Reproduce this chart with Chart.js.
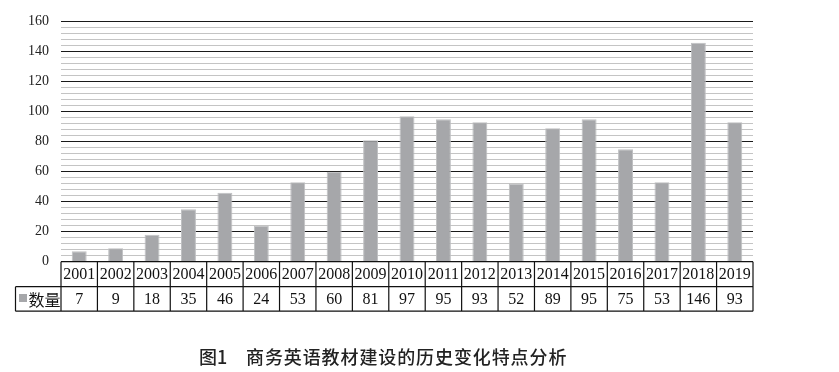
<!DOCTYPE html>
<html>
<head>
<meta charset="utf-8">
<script src="https://cdn.jsdelivr.net/npm/chart.js@4"></script>
<style>
  body { margin: 0; background: #fff; }
  #wrap { position: relative; width: 839px; height: 372px; }
  #caption {
    position: absolute; top: 346px; left: 199px; height: 20px;
    font-family: "Noto Sans CJK SC", sans-serif; font-size: 18px; line-height: 20px;
    font-weight: 500; color: #222; white-space: nowrap;
  }
  #caption .titulo { position: absolute; left: 47px; top: 0; letter-spacing: 0.9px; }
</style>
</head>
<body>
<div id="wrap">
  <canvas id="miGrafico"></canvas>
  <div id="caption"><span>图1</span><span class="titulo">商务英语教材建设的历史变化特点分析</span></div>
</div>
<script>
// datos
var anios = ['2001', '2002', '2003', '2004', '2005', '2006', '2007', '2008', '2009', '2010',
  '2011', '2012', '2013', '2014', '2015', '2016', '2017', '2018', '2019'];
var cantidad = [7, 9, 18, 35, 46, 24, 53, 60, 81, 97, 95, 93, 52, 89, 95, 75, 53, 146, 93];
var nombreSerie = '数量';
var ticksY = [0, 20, 40, 60, 80, 100, 120, 140, 160];

// tabla de datos debajo del grafico
var tablaDatos = {
  id: 'tablaDatos',
  afterDraw: function (chart) {
    var ctx = chart.ctx;
    var area = chart.chartArea;
    var n = anios.length;
    var colW = (area.right - area.left) / n;
    var y0 = area.bottom;
    var y1 = y0 + 25;
    var y2 = y1 + 24.5;
    var xLeyenda = 15.5;
    ctx.save();
    ctx.strokeStyle = '#111';
    ctx.lineWidth = 1.2;
    ctx.beginPath();
    ctx.moveTo(area.left, y0); ctx.lineTo(area.right, y0);
    ctx.moveTo(xLeyenda, y1); ctx.lineTo(area.right, y1);
    ctx.moveTo(xLeyenda, y2); ctx.lineTo(area.right, y2);
    ctx.moveTo(xLeyenda, y1); ctx.lineTo(xLeyenda, y2);
    for (var i = 0; i <= n; i++) {
      var x = area.left + i * colW;
      ctx.moveTo(x, y0); ctx.lineTo(x, y2);
    }
    ctx.stroke();

    ctx.fillStyle = '#111';
    ctx.textAlign = 'center';
    ctx.textBaseline = 'middle';
    ctx.font = '16px "Liberation Serif", serif';
    var xs = chart.scales.x;
    anios.forEach(function (a, i) {
      var cx = xs.getPixelForTick(i);
      ctx.fillText(a, cx, (y0 + y1) / 2 + 1);
      ctx.fillText(String(cantidad[i]), cx, (y1 + y2) / 2 + 1);
    });

    // leyenda
    ctx.fillStyle = '#a6a7aa';
    ctx.fillRect(19, 294, 8, 8);
    ctx.fillStyle = '#111';
    ctx.textAlign = 'left';
    ctx.font = '16px "Noto Sans CJK SC", serif';
    ctx.fillText(nombreSerie, 28.5, (y1 + y2) / 2 + 0.5);
    ctx.restore();
  }
};

const ctx = document.getElementById('miGrafico');
window.miGrafico = new Chart(ctx, {
  type: 'bar',
  data: {
    labels: anios,
    datasets: [{
      label: nombreSerie,
      data: cantidad,
      backgroundColor: '#a6a7aa',
      borderColor: '#bfc0c2',
      borderWidth: 1,
      barPercentage: 0.41,
      categoryPercentage: 1
    }]
  },
  options: {
    responsive: true,
    maintainAspectRatio: false,
    animation: false,
    layout: {
      padding: { left: 0, right: 86, top: 21.7, bottom: 110.3 }
    },
    plugins: {
      legend: { display: false },
      tooltip: { enabled: false }
    },
    scales: {
      x: {
        display: false
      },
      y: {
        min: 0,
        max: 160,
        afterFit: function (scale) { scale.width = 61; },
        border: { display: false },
        grid: {
          drawTicks: false,
          lineWidth: 1,
          color: function (c) {
            return (c.tick && c.tick.value % 20 === 0) ? '#1a1a1a' : '#c4c4c4';
          }
        },
        ticks: {
          stepSize: 4,
          autoSkip: false,
          padding: 12,
          color: '#222',
          font: { family: '"Liberation Serif", serif', size: 14 },
          callback: function (v) {
            return ticksY.indexOf(v) >= 0 ? v : '';
          }
        }
      }
    }
  },
  plugins: [tablaDatos]
});
</script>
</body>
</html>
